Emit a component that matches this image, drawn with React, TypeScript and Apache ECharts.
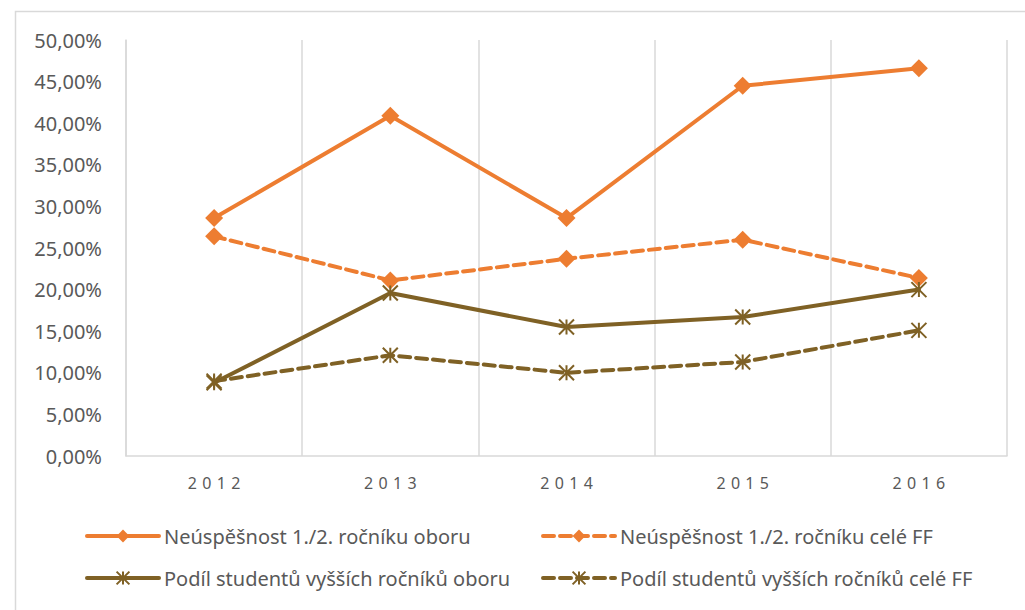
import React, { useEffect, useRef } from "react";
import * as echarts from "echarts";

const years = ["2012", "2013", "2014", "2015", "2016"];
const neuspesnostOboru = [0.286, 0.409, 0.286, 0.445, 0.466];
const neuspesnostFF = [0.264, 0.211, 0.237, 0.260, 0.214];
const podilOboru = [0.088, 0.196, 0.155, 0.167, 0.200];
const podilFF = [0.090, 0.121, 0.100, 0.113, 0.151];
const seriesNames = [
  "Neúspěšnost 1./2. ročníku oboru",
  "Neúspěšnost 1./2. ročníku celé FF",
  "Podíl studentů vyšších ročníků oboru",
  "Podíl studentů vyšších ročníků celé FF",
];

const ORANGE = "#ED7D31";
const BROWN = "#7F6125";
const TEXT = "#595959";
const GRID = "#D9D9D9";
const FONT = "'Noto Sans', sans-serif";
const STAR = "path://M5,0 L5,10 M0,0 L10,10 M10,0 L0,10";

export default function App() {
  const ref = useRef<HTMLDivElement>(null);
  useEffect(() => {
    if (!ref.current) return;
    const chart = echarts.init(ref.current, null, { renderer: "svg" });
    const mk = (name: string, data: number[], color: string, dashed: boolean, star: boolean) => ({
      name,
      type: "line",
      data,
      symbol: star ? STAR : "diamond",
      symbolSize: star ? 15 : 18,
      showSymbol: true,
      lineStyle: { color, width: 4, type: dashed ? [11, 6] : "solid", cap: "round" },
      itemStyle: star
        ? { color: "transparent", borderColor: color, borderWidth: 2 }
        : { color, borderColor: color, borderWidth: 0 },
      emphasis: { disabled: true },
    });
    const legendCommon = {
      orient: "vertical",
      itemWidth: 72,
      itemHeight: 16,
      itemGap: 22,
      lineStyle: { width: 4 },
      textStyle: { color: TEXT, fontSize: 20, fontFamily: FONT },
      selectedMode: false,
    };
    chart.setOption({
      animation: false,
      textStyle: { fontFamily: FONT },
      graphic: [
        {
          type: "rect",
          shape: { x: 15.5, y: 11.5, width: 1030, height: 620 },
          style: { fill: "none", stroke: GRID, lineWidth: 1.5 },
          silent: true,
        },
      ],
      grid: { left: 126, right: 18, top: 40, bottom: 154, containLabel: false },
      legend: [
        { ...legendCommon, left: 80, top: 521, data: [seriesNames[0], seriesNames[2]] },
        { ...legendCommon, left: 536, top: 521, data: [seriesNames[1], seriesNames[3]] },
      ],
      xAxis: {
        type: "category",
        data: years,
        boundaryGap: true,
        axisLine: { show: true, lineStyle: { color: GRID, width: 1.5 } },
        axisTick: { show: false },
        splitLine: { show: true, lineStyle: { color: GRID, width: 1.5 } },
        axisLabel: {
          color: TEXT,
          fontSize: 16,
          fontFamily: FONT,
          margin: 19,
          formatter: (v: string) => v.split("").join("\u2004"),
        },
      },
      yAxis: {
        type: "value",
        min: 0,
        max: 0.5,
        interval: 0.05,
        axisLine: { show: true, lineStyle: { color: GRID, width: 1.5 } },
        axisTick: { show: false },
        splitLine: { show: false },
        axisLabel: {
          color: TEXT,
          fontSize: 20,
          fontFamily: FONT,
          margin: 24,
          formatter: (v: number) => (v * 100).toFixed(2).replace(".", ",") + "%",
        },
      },
      series: [
        mk(seriesNames[0], neuspesnostOboru, ORANGE, false, false),
        mk(seriesNames[1], neuspesnostFF, ORANGE, true, false),
        mk(seriesNames[2], podilOboru, BROWN, false, true),
        mk(seriesNames[3], podilFF, BROWN, true, true),
      ],
    });
    return () => chart.dispose();
  }, []);
  return (
    <div
      ref={ref}
      style={{ position: "fixed", left: 0, top: 0, width: 1025, height: 610, background: "#fff" }}
    />
  );
}
